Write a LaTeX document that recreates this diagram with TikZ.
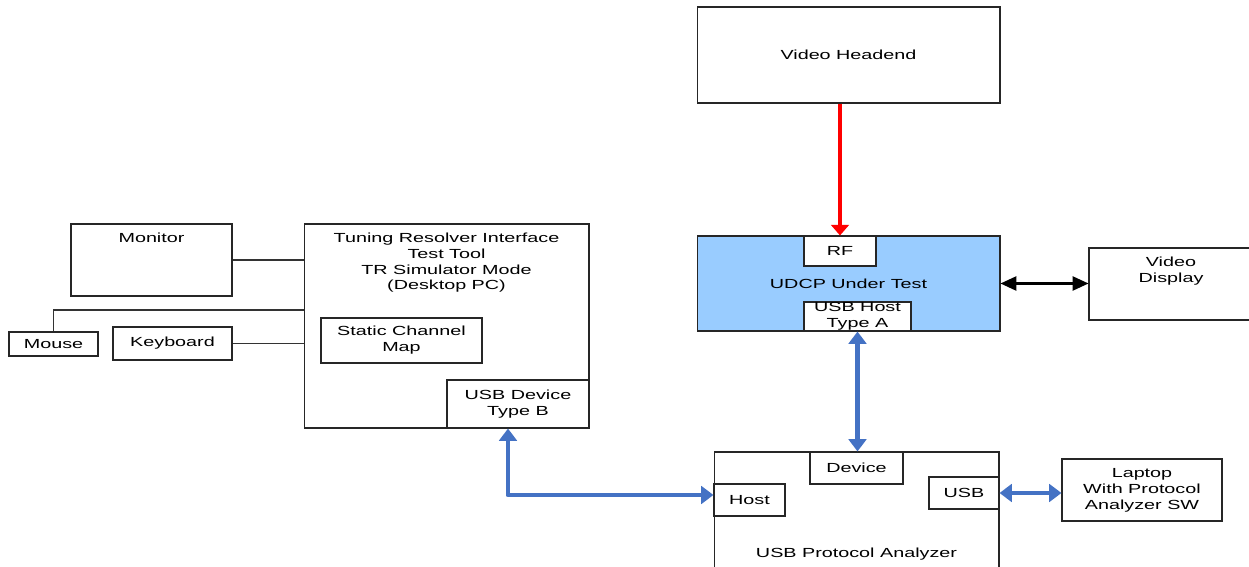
\documentclass[tikz,border=0pt]{standalone}
\usepackage{fontspec}
\setmainfont[FakeStretch=1.5]{Liberation Sans}
\usepackage{tikz}
\usetikzlibrary{positioning,arrows.meta}
\usepackage{xcolor}

\definecolor{udcpblue}{RGB}{153,204,255}
\definecolor{usbblue}{RGB}{68,114,196}

\tikzset{
  blk/.style={draw=black!85, line width=0.6pt, fill=white, inner sep=0pt, align=center},
  toplbl/.style={label={[anchor=north,inner sep=5pt,align=center]north:#1}},
  wire/.style={draw=black!80, line width=0.6pt},
  rfarrow/.style={red, line width=2.3pt, -{Triangle[length=6pt,width=10pt]}},
  usbarrow/.style={usbblue, line width=2.8pt, line join=round,
    {Triangle[length=7pt,width=10pt]}-{Triangle[length=7pt,width=10pt]}},
  vidarrow/.style={black, line width=1.2pt,
    {Triangle[length=9pt,width=8pt]}-{Triangle[length=9pt,width=8pt]}},
}

\begin{document}
\begin{tikzpicture}[x=0.02cm, y=-0.02cm, font=\fontsize{7.5}{9.07}\selectfont]
   \useasboundingbox (0,0) rectangle (1249,567);

   % headend and unit under test
   \node[blk, minimum width=6.06cm, minimum height=1.92cm] (head) at (848.5,55) {Video Headend};
   \node[blk, fill=udcpblue, minimum width=6.06cm, minimum height=1.90cm] (udcp) at (848.5,283.5) {UDCP Under Test};
   \node[blk, minimum width=1.44cm, minimum height=0.60cm] (rf) at (840,251) {RF};
   \node[blk, minimum width=2.14cm, minimum height=0.58cm] (uhost) at (857.5,316.5) {USB Host\\Type A};
   \node[blk, minimum width=3.28cm, minimum height=1.44cm, toplbl={Video\\Display}] (disp) at (1171,284) {};

   % desktop pc and peripherals
   \node[blk, minimum width=5.70cm, minimum height=4.08cm,
         toplbl={Tuning Resolver Interface\\Test Tool\\TR Simulator Mode\\(Desktop PC)}] (trt) at (446.5,326) {};
   \node[blk, minimum width=3.22cm, minimum height=0.90cm] (scm) at (401.5,340.5) {Static Channel\\Map};
   \node[blk, minimum width=2.84cm, minimum height=0.96cm] (udev) at (518,404) {USB Device\\Type B};
   \node[blk, minimum width=3.22cm, minimum height=1.44cm, toplbl=Monitor] (mon) at (151.5,260) {};
   \node[blk, minimum width=1.78cm, minimum height=0.48cm] (mouse) at (53.5,344) {Mouse};
   \node[blk, minimum width=2.38cm, minimum height=0.66cm] (kbd) at (172.5,343.5) {Keyboard};
   \coordinate (mjoin) at (304,310);

   % protocol analyzer
   \node[blk, minimum width=5.70cm, minimum height=2.56cm,
         label={[anchor=south,inner sep=11.5pt]south:USB Protocol Analyzer}] (ana) at (856.5,516) {};
   \node[blk, minimum width=1.86cm, minimum height=0.64cm] (dev) at (856.5,468) {Device};
   \node[blk, minimum width=1.42cm, minimum height=0.64cm] (host) at (749.5,500) {Host};
   \node[blk, minimum width=1.40cm, minimum height=0.64cm] (usb) at (964,493) {USB};
   \node[blk, minimum width=3.20cm, minimum height=1.24cm] (lap) at (1142,490) {Laptop\\With Protocol\\Analyzer SW};

   \draw[rfarrow] (rf.north |- head.south) -- (rf.north);
   \draw[vidarrow] (udcp.east) -- (disp.west |- udcp.east);
   \draw[usbarrow] (uhost.south) -- (uhost.south |- dev.north);
   \draw[usbarrow] ([xshift=-0.2cm]udev.south) |- ([yshift=0.1cm]host.west);
   \draw[usbarrow] (usb.east) -- (lap.west |- usb.east);

   \draw[wire] (mon.east) -- (mon.east -| trt.west);
   \draw[wire] (kbd.east) -- (kbd.east -| trt.west);
   \draw[wire] (mouse.north) |- (mjoin);
\end{tikzpicture}
\end{document}
